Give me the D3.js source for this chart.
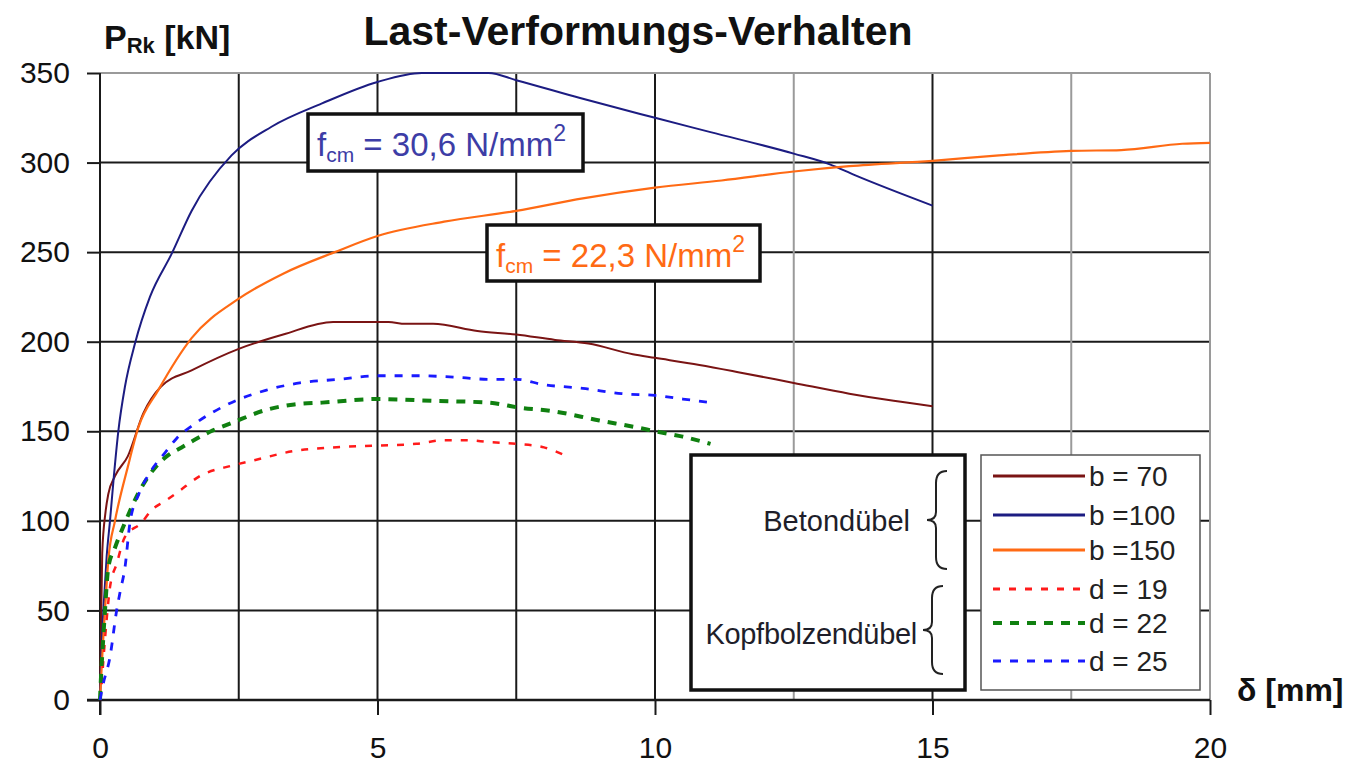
<!DOCTYPE html>
<html>
<head>
<meta charset="utf-8">
<script src="https://cdn.jsdelivr.net/npm/d3@7/dist/d3.min.js"></script>
<style>
  html, body { margin: 0; padding: 0; background: #fff; }
  svg { display: block; font-family: "Liberation Sans", Arial, sans-serif; }
</style>
</head>
<body>
<svg id="chart" width="1366" height="775"></svg>
<script>
// ---- data (δ in mm, P in kN) ----
const xTicks = [0, 5, 10, 15, 20];
const yTicks = [0, 50, 100, 150, 200, 250, 300, 350];
const xGrid = [2.5, 5, 7.5, 10, 12.5, 15, 17.5];
const xGridLight = [12.5, 17.5];

const b70 = [[0,0],[0.02,40],[0.04,82],[0.1,105],[0.15,115],[0.27,125],[0.5,136],[0.78,160],[1.1,175],[1.65,184],[2.5,196],[3.3,204],[4.2,211],[5.2,211],[5.5,210],[6.0,210],[6.8,206],[7.5,204],[8.2,201],[8.8,199],[9.6,193],[10.0,191],[10.8,187],[11.5,183],[12.5,177],[13.5,171],[14.3,167],[15.0,164]];
const b100 = [[0,0],[0.03,30],[0.08,60],[0.12,80],[0.18,100],[0.25,125],[0.33,150],[0.45,175],[0.63,199],[0.9,225],[1.29,249],[1.65,273],[2.37,304],[3.09,320],[4.0,333],[5.0,345],[5.8,350],[7.0,350],[7.5,346],[8.65,336],[10.0,325],[11.0,317],[12.5,305],[13.15,299],[13.6,293],[15.0,276]];
const b150 = [[0,0],[0.05,30],[0.1,55],[0.15,78],[0.27,100],[0.5,130],[0.69,152],[1.05,173],[1.65,202],[2.5,224],[3.3,238],[4.23,250],[5.0,259],[6.2,267],[7.5,273],[8.7,280],[10.0,286],[11.2,290],[12.5,295],[13.5,298],[15.0,301],[16.2,304],[17.5,306.5],[18.4,307],[19.5,310.5],[20,311]];
const d19 = [[0,0],[0.03,9],[0.06,22],[0.12,45],[0.18,63],[0.3,76],[0.45,91],[0.75,99],[0.93,106],[1.17,111],[1.4,116],[1.8,125],[2.4,131],[2.8,134],[3.5,139],[4.2,141],[5.0,142],[5.7,143],[6.2,145],[6.6,145],[7.0,144],[7.5,143],[8.0,141],[8.35,137]];
const d22 = [[0,0],[0.02,14],[0.05,30],[0.09,50],[0.15,74],[0.27,85],[0.45,99],[0.7,116],[1.0,130],[1.2,136],[1.47,141],[2.0,150],[2.4,155],[3.0,162],[3.5,165],[4.0,166],[5.0,168],[6.0,167],[7.0,166],[7.6,163],[8.1,161.5],[9.0,156],[9.7,152],[10.0,150],[10.5,147],[11.0,143]];
const d25 = [[0,0],[0.05,8],[0.18,24],[0.3,50],[0.36,60],[0.45,74],[0.54,99],[0.7,115],[0.9,127],[1.17,138],[1.38,146],[1.7,154],[2.3,165],[3.0,173],[3.6,177],[4.3,179],[5.0,181],[5.7,181],[6.5,180],[7.0,179],[7.5,179],[8.0,176],[8.7,174],[9.4,171],[10.0,170],[10.5,168],[11.0,166]];

const seriesNames = ["b = 70", "b =100", "b =150", "d = 19", "d = 22", "d = 25"];
const seriesData = [b70, b100, b150, d19, d22, d25];
const seriesColors = ["#7a1414", "#1c1c82", "#ff6a14", "#ff1a1a", "#108010", "#1a1aff"];
const seriesWidths = [2, 2, 2.2, 2.5, 4, 2.8];
const seriesDash = [null, null, null, "7,9", "9,8", "8,9"];

const title = "Last-Verformungs-Verhalten";
const groupLabels = ["Betondübel", "Kopfbolzendübel"];

// ---- layout ----
const svg = d3.select("#chart");
const L = 100, R = 1210, T = 73, B = 700;
const x = d3.scaleLinear().domain([0, 20]).range([L, R]);
const y = d3.scaleLinear().domain([0, 350]).range([B, T]);
const FONT = "Liberation Sans, Arial, sans-serif";

// grid
const g = svg.append("g");
g.selectAll(".hg").data(yTicks.filter(d => d > 0 && d < 350)).enter().append("line")
  .attr("x1", L).attr("x2", R).attr("y1", d => y(d)).attr("y2", d => y(d))
  .attr("stroke", "#1a1a1a").attr("stroke-width", 2);
g.selectAll(".vg").data(xGrid).enter().append("line")
  .attr("y1", T).attr("y2", B).attr("x1", d => x(d)).attr("x2", d => x(d))
  .attr("stroke", d => xGridLight.includes(d) ? "#9a9a9a" : "#1a1a1a").attr("stroke-width", 2);
g.append("line").attr("x1", L).attr("x2", R).attr("y1", T).attr("y2", T).attr("stroke", "#9a9a9a").attr("stroke-width", 2);
g.append("line").attr("x1", R).attr("x2", R).attr("y1", T).attr("y2", B).attr("stroke", "#9a9a9a").attr("stroke-width", 2);

// axes
const yAxis = d3.axisLeft(y).tickValues(yTicks).tickSize(13).tickPadding(17).tickFormat(d3.format("d"));
const ya = svg.append("g").attr("transform", `translate(${L},0)`).call(yAxis);
ya.select(".domain").remove();
ya.selectAll(".tick line").attr("stroke", "#1a1a1a").attr("stroke-width", 2);
ya.selectAll(".tick text").attr("font-size", 30).attr("fill", "#111").attr("font-family", FONT);
svg.append("line").attr("x1", L).attr("x2", L).attr("y1", T).attr("y2", B + 15).attr("stroke", "#1a1a1a").attr("stroke-width", 2);

const xAxis = d3.axisBottom(x).tickValues(xTicks).tickSize(15).tickPadding(22).tickFormat(d3.format("d"));
const xa = svg.append("g").attr("transform", `translate(0,${B})`).call(xAxis);
xa.select(".domain").remove();
xa.selectAll(".tick line").attr("stroke", "#1a1a1a").attr("stroke-width", 2);
xa.selectAll(".tick text").attr("font-size", 30).attr("fill", "#111").attr("font-family", FONT);
svg.append("line").attr("x1", L - 13).attr("x2", R).attr("y1", B).attr("y2", B).attr("stroke", "#1a1a1a").attr("stroke-width", 2.5);

// curves
const line = d3.line().x(d => x(d[0])).y(d => y(d[1])).curve(d3.curveMonotoneX);
seriesData.forEach((s, i) => {
  svg.append("path").datum(s).attr("d", line)
    .attr("fill", "none").attr("stroke", seriesColors[i]).attr("stroke-width", seriesWidths[i])
    .attr("stroke-dasharray", seriesDash[i]).attr("stroke-linejoin", "round");
});

// title & axis labels
svg.append("text").attr("x", 638).attr("y", 45).attr("text-anchor", "middle")
  .attr("font-size", 41).attr("font-weight", "bold").attr("fill", "#111").text(title);
const yl = svg.append("text").attr("x", 104).attr("y", 49).attr("font-size", 34).attr("font-weight", "bold").attr("fill", "#111");
yl.append("tspan").text("P");
yl.append("tspan").attr("font-size", 22).attr("dy", 4).text("Rk");
yl.append("tspan").attr("dy", -4).text(" [kN]");
svg.append("text").attr("x", 1237).attr("y", 701).attr("font-size", 32).attr("font-weight", "bold").attr("fill", "#111").text("δ [mm]");

// annotation boxes
function fcmBox(x0, y0, w, h, val, color) {
  svg.append("rect").attr("x", x0).attr("y", y0).attr("width", w).attr("height", h)
    .attr("fill", "#fff").attr("stroke", "#111").attr("stroke-width", 3.5);
  const t = svg.append("text").attr("x", x0 + 9).attr("y", y0 + 42).attr("font-size", 33).attr("fill", color);
  t.append("tspan").text("f");
  t.append("tspan").attr("font-size", 21).attr("dy", 6).text("cm");
  t.append("tspan").attr("dy", -6).text(" = " + val + " N/mm");
  t.append("tspan").attr("font-size", 23).attr("dy", -15).text("2");
}
fcmBox(308, 114, 275, 57, "30,6", "#3d3da6");
fcmBox(487, 225, 273, 56, "22,3", "#ff6a14");

// group box
svg.append("rect").attr("x", 691).attr("y", 455).attr("width", 274).attr("height", 235)
  .attr("fill", "#fff").attr("stroke", "#111").attr("stroke-width", 3.5);
svg.append("text").attr("x", 910).attr("y", 531).attr("text-anchor", "end").attr("font-size", 29).attr("fill", "#1e1e2a").text(groupLabels[0]);
svg.append("text").attr("x", 917).attr("y", 644).attr("text-anchor", "end").attr("font-size", 29).attr("fill", "#1e1e2a").attr("letter-spacing", -0.3).text(groupLabels[1]);
function brace(xr, y1, y2) {
  const ym = (y1 + y2) / 2, xm = xr - 20, xc = xr - 11;
  const p = `M${xr},${y1} Q${xc},${y1} ${xc},${y1 + 12} L${xc},${ym - 8} Q${xc},${ym} ${xm},${ym} Q${xc},${ym} ${xc},${ym + 8} L${xc},${y2 - 12} Q${xc},${y2} ${xr},${y2}`;
  svg.append("path").attr("d", p).attr("fill", "none").attr("stroke", "#222").attr("stroke-width", 2);
}
brace(947, 471, 569);
brace(943, 586, 674);

// legend
svg.append("rect").attr("x", 981).attr("y", 455).attr("width", 219).attr("height", 235)
  .attr("fill", "#fff").attr("stroke", "#555").attr("stroke-width", 1.5);
const legY = [476, 515, 550, 589, 623, 661];
seriesNames.forEach((n, i) => {
  svg.append("line").attr("x1", 993).attr("x2", 1085).attr("y1", legY[i]).attr("y2", legY[i])
    .attr("stroke", seriesColors[i]).attr("stroke-width", i < 3 ? 3 : (i === 4 ? 4 : 3))
    .attr("stroke-dasharray", seriesDash[i]);
  svg.append("text").attr("x", 1089).attr("y", legY[i] + 10).attr("font-size", 28).attr("fill", "#222").text(n);
});
</script>
</body>
</html>
